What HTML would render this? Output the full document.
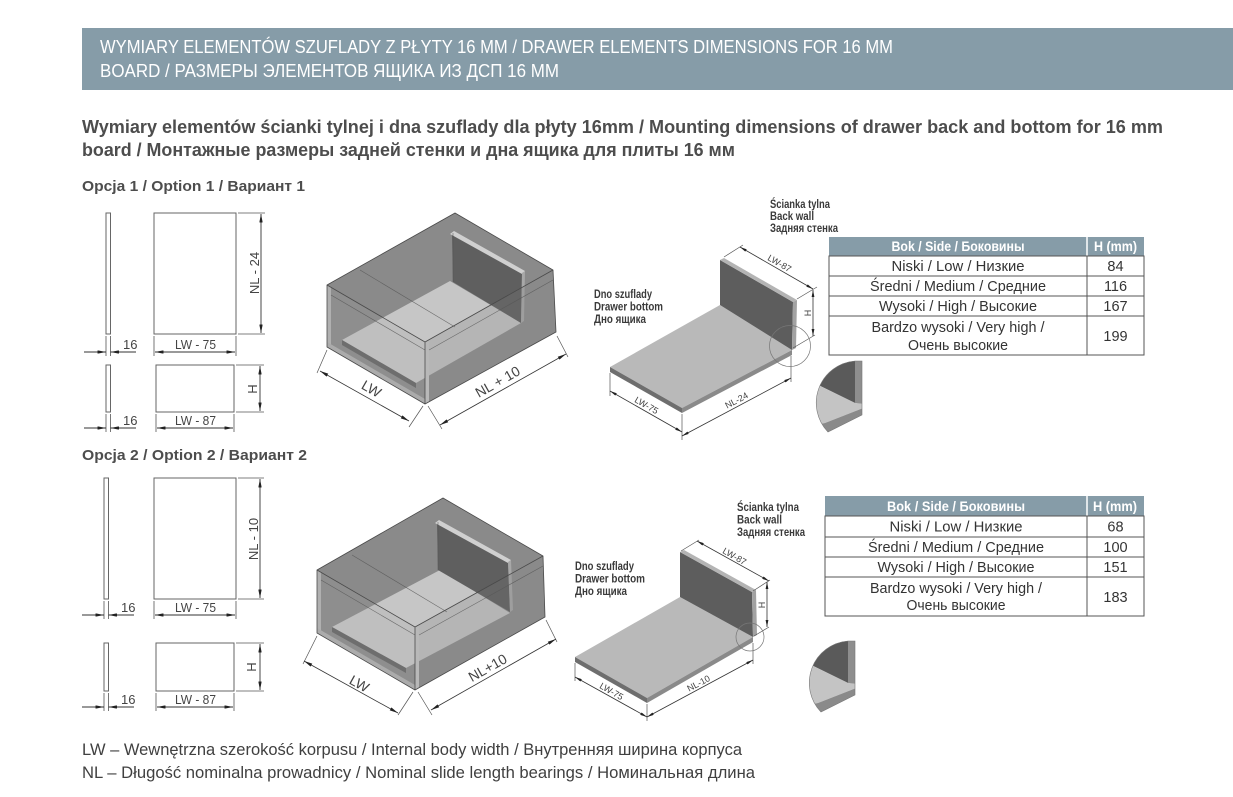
<!DOCTYPE html>
<html><head><meta charset="utf-8"><style>
html,body{margin:0;padding:0;background:#fff;}
svg{display:block;}
text{font-family:"Liberation Sans Narrow","Liberation Sans","DejaVu Sans",sans-serif;}
</style></head><body>
<svg width="1233" height="797" viewBox="0 0 1233 797" xmlns="http://www.w3.org/2000/svg">
<defs>
<marker id="ar" viewBox="0 0 10 4" refX="10" refY="2" markerWidth="9" markerHeight="3.4" markerUnits="userSpaceOnUse" orient="auto-start-reverse"><path d="M0,0L10,2L0,4z" fill="#222"/></marker>
<marker id="as" viewBox="0 0 10 4" refX="10" refY="2" markerWidth="7" markerHeight="2.8" markerUnits="userSpaceOnUse" orient="auto-start-reverse"><path d="M0,0L10,2L0,4z" fill="#222"/></marker>
<clipPath id="det"><path d="M862,361 L862,415 L828,432 A42,42 0 0 1 855,361 Z"/></clipPath>
</defs>

<!-- Header band -->
<rect x="82" y="28" width="1151" height="62" fill="#869ca8"/>
<text x="100" y="53" font-size="18" fill="#fff" textLength="793" lengthAdjust="spacingAndGlyphs">WYMIARY ELEMENTÓW SZUFLADY Z PŁYTY 16 MM / DRAWER ELEMENTS DIMENSIONS FOR 16 MM</text>
<text x="100" y="77" font-size="18" fill="#fff" textLength="459" lengthAdjust="spacingAndGlyphs">BOARD / РАЗМЕРЫ ЭЛЕМЕНТОВ ЯЩИКА ИЗ ДСП 16 ММ</text>

<!-- Subheading -->
<text x="82" y="133" font-size="18" font-weight="bold" fill="#4d4d4d" textLength="1081" lengthAdjust="spacingAndGlyphs">Wymiary elementów ścianki tylnej i dna szuflady dla płyty 16mm / Mounting dimensions of drawer back and bottom for 16 mm</text>
<text x="82" y="156" font-size="18" font-weight="bold" fill="#4d4d4d" textLength="653" lengthAdjust="spacingAndGlyphs">board / Монтажные размеры задней стенки и дна ящика для плиты 16 мм</text>

<text x="82" y="191" font-size="15" font-weight="bold" fill="#4d4d4d" textLength="223" lengthAdjust="spacingAndGlyphs">Opcja 1 / Option 1 / Вариант 1</text>
<text x="82" y="460" font-size="15" font-weight="bold" fill="#4d4d4d" textLength="225" lengthAdjust="spacingAndGlyphs">Opcja 2 / Option 2 / Вариант 2</text>

<!-- ===== Option 1 flat parts ===== -->
<g fill="none" stroke="#666" stroke-width="1">
<rect x="106" y="213" width="4.5" height="121"/>
<rect x="154" y="213" width="82" height="121"/>
<rect x="106" y="365" width="4.5" height="47"/>
<rect x="156" y="365" width="78" height="47"/>
</g>
<g fill="none" stroke="#555" stroke-width="0.8">
<path d="M238,213H265M238,334H265M154,336V356M236,336V356M106,336V356M110.5,336V356"/>
<path d="M236,365H264M236,412H264M156,414V432M234,414V432M106,414V432M110.5,414V432"/>
</g>
<g fill="none" stroke="#333" stroke-width="0.9">
<path d="M261,214V333" marker-start="url(#ar)" marker-end="url(#ar)"/>
<path d="M155,352H235" marker-start="url(#ar)" marker-end="url(#ar)"/>
<path d="M84,352H106" marker-end="url(#ar)"/>
<path d="M136,352H110.5" marker-end="url(#ar)"/>
<path d="M260,366V411" marker-start="url(#ar)" marker-end="url(#ar)"/>
<path d="M157,428H233" marker-start="url(#ar)" marker-end="url(#ar)"/>
<path d="M84,428H106" marker-end="url(#ar)"/>
<path d="M136,428H110.5" marker-end="url(#ar)"/>
</g>
<g font-size="13" fill="#444">
<text transform="translate(259,273) rotate(-90)" text-anchor="middle">NL - 24</text>
<text x="175" y="349" textLength="41" lengthAdjust="spacingAndGlyphs">LW - 75</text>
<text x="123" y="349">16</text>
<text transform="translate(257,389) rotate(-90)" text-anchor="middle">H</text>
<text x="175" y="425" textLength="41" lengthAdjust="spacingAndGlyphs">LW - 87</text>
<text x="123" y="425">16</text>
</g>

<!-- ===== Option 2 flat parts ===== -->
<g fill="none" stroke="#666" stroke-width="1">
<rect x="104" y="478" width="4.5" height="121"/>
<rect x="154" y="478" width="82" height="121"/>
<rect x="104" y="643" width="4.5" height="48"/>
<rect x="156" y="643" width="78" height="48"/>
</g>
<g fill="none" stroke="#555" stroke-width="0.8">
<path d="M238,478H264M238,599H264M154,601V619M236,601V619M104,601V619M108.5,601V619"/>
<path d="M236,643H264M236,691H264M156,693V711M234,693V711M104,693V711M108.5,693V711"/>
</g>
<g fill="none" stroke="#333" stroke-width="0.9">
<path d="M260,479V598" marker-start="url(#ar)" marker-end="url(#ar)"/>
<path d="M155,615H235" marker-start="url(#ar)" marker-end="url(#ar)"/>
<path d="M82,615H104" marker-end="url(#ar)"/>
<path d="M134,615H108.5" marker-end="url(#ar)"/>
<path d="M260,644V690" marker-start="url(#ar)" marker-end="url(#ar)"/>
<path d="M157,707H233" marker-start="url(#ar)" marker-end="url(#ar)"/>
<path d="M82,707H104" marker-end="url(#ar)"/>
<path d="M134,707H108.5" marker-end="url(#ar)"/>
</g>
<g font-size="13" fill="#444">
<text transform="translate(258,539) rotate(-90)" text-anchor="middle">NL - 10</text>
<text x="175" y="612" textLength="41" lengthAdjust="spacingAndGlyphs">LW - 75</text>
<text x="121" y="612">16</text>
<text transform="translate(256,667) rotate(-90)" text-anchor="middle">H</text>
<text x="175" y="704" textLength="41" lengthAdjust="spacingAndGlyphs">LW - 87</text>
<text x="121" y="704">16</text>
</g>

<!-- ===== 3D box option 1 ===== -->
<g>
<polygon points="327,285 455,213 553,270 556,332 425,404 327,347" fill="#8f8f8f"/>
<polygon points="327,285 455,213 553,270 425,342" fill="#8a8a8a"/>
<polygon points="342,340 450,281 521,323 416,383" fill="#c6c6c6"/>
<polygon points="342,340 416,383 416,388 342,345" fill="#6a6a6a"/>
<polygon points="452,233 522,273 521,323 453,282" fill="#5f5f5f"/>
<polygon points="450,234 454,231 525,271 522,274" fill="#d0d0d0"/>
<polygon points="522,273 525,271 524,321 521,323" fill="#a8a8a8"/>
<polygon points="425,342 553,270 556,332 425,404" fill="#7a7a7a" opacity="0.22"/>
<polygon points="327,285 425,342 425,404 327,347" fill="#8a8a8a" opacity="0.12"/>
<polygon points="327,285 331,287 331,349 327,347" fill="#b0b0b0"/>
<polygon points="425,342 429,340 429,402 425,404" fill="#b8b8b8"/>
<polygon points="327,342 425,399 425,404 327,347" fill="#ababab"/>
<g fill="none" stroke="#4a4a4a" stroke-width="0.8">
<polygon points="327,285 455,213 553,270 556,332 425,404 327,347"/>
<path d="M327,285L425,342L553,270M425,342V404"/>
</g>
<g fill="none" stroke="#555" stroke-width="0.6" opacity="0.8">
<path d="M331,295L425,350M360,270L455,327M429,350L553,280M453,282V233"/>
</g>
</g>
<g fill="none" stroke="#555" stroke-width="0.7">
<path d="M327,350L317,373M423,406L409,427M428,406L442,429M557,336L568,357"/>
</g>
<g fill="none" stroke="#333" stroke-width="0.8">
<path d="M320,371L409,421" marker-start="url(#ar)" marker-end="url(#ar)"/>
<path d="M440,425L566,354" marker-start="url(#ar)" marker-end="url(#ar)"/>
</g>
<g font-size="14" fill="#444">
<text transform="translate(369,393) rotate(30)" text-anchor="middle">LW</text>
<text transform="translate(500,386) rotate(-29.5)" text-anchor="middle">NL + 10</text>
</g>

<!-- ===== 3D box option 2 ===== -->
<g>
<polygon points="317,570 443,498 543,556 545,617 415,690 317,633" fill="#8f8f8f"/>
<polygon points="317,570 443,498 543,556 415,627" fill="#8a8a8a"/>
<polygon points="332,627 440,570 510,613 406,668" fill="#c6c6c6"/>
<polygon points="332,627 406,668 406,673 332,632" fill="#6a6a6a"/>
<polygon points="437,522 508,562 510,612 438,570" fill="#5f5f5f"/>
<polygon points="435,523 439,520 511,560 508,563" fill="#d0d0d0"/>
<polygon points="508,562 511,560 513,610 510,612" fill="#a8a8a8"/>
<polygon points="415,627 543,556 545,617 415,690" fill="#7a7a7a" opacity="0.22"/>
<polygon points="317,570 415,627 415,690 317,633" fill="#8a8a8a" opacity="0.12"/>
<polygon points="317,570 321,572 321,635 317,633" fill="#b0b0b0"/>
<polygon points="415,627 419,625 419,688 415,690" fill="#b8b8b8"/>
<polygon points="317,628 415,685 415,690 317,633" fill="#ababab"/>
<g fill="none" stroke="#4a4a4a" stroke-width="0.8">
<polygon points="317,570 443,498 543,556 545,617 415,690 317,633"/>
<path d="M317,570L415,627L543,556M415,627V690"/>
</g>
<g fill="none" stroke="#555" stroke-width="0.6" opacity="0.8">
<path d="M321,580L415,635M352,555L447,612M419,635L543,566M438,570V522"/>
</g>
</g>
<g fill="none" stroke="#555" stroke-width="0.7">
<path d="M317,636L303,664M413,692L398,715M418,692L432,715M546,620L557,642"/>
</g>
<g fill="none" stroke="#333" stroke-width="0.8">
<path d="M304,661L398,713" marker-start="url(#ar)" marker-end="url(#ar)"/>
<path d="M431,710L556,639" marker-start="url(#ar)" marker-end="url(#ar)"/>
</g>
<g font-size="14" fill="#444">
<text transform="translate(357,688) rotate(29)" text-anchor="middle">LW</text>
<text transform="translate(490,672) rotate(-29.5)" text-anchor="middle">NL+10</text>
</g>

<!-- ===== Back wall + bottom option 1 ===== -->
<g>
<polygon points="610,367 720,305 792,350 682,408" fill="#b9b9b9"/>
<polygon points="610,367 682,408 682,413 610,372" fill="#6e6e6e"/>
<polygon points="682,408 792,350 792,355 682,413" fill="#8a8a8a"/>
<polygon points="720,260 793,302 792,350 720,305" fill="#5d5d5d"/>
<polygon points="720,260 724,258 797,300 793,302" fill="#b4b4b4"/>
<polygon points="793,302 797,300 796,348 792,350" fill="#a2a2a2"/>
</g>
<g fill="none" stroke="#555" stroke-width="0.7">
<path d="M724,257L743,245M797,299L817,287M793,348L815,335M682,414V440M791,356V382M610,373V396"/>
<circle cx="790" cy="346" r="20.5" stroke="#777"/>
</g>
<g fill="none" stroke="#333" stroke-width="0.8">
<path d="M740,247L813,289" marker-start="url(#as)" marker-end="url(#as)"/>
<path d="M813,290V336" marker-start="url(#as)" marker-end="url(#as)"/>
<path d="M682,436L791,378" marker-start="url(#as)" marker-end="url(#as)"/>
<path d="M610,391L682,432" marker-start="url(#as)" marker-end="url(#as)"/>
</g>
<g font-size="9" fill="#444">
<text transform="translate(778,266) rotate(30)" text-anchor="middle">LW-87</text>
<text transform="translate(811,313) rotate(-90)" text-anchor="middle">H</text>
<text transform="translate(738,403) rotate(-28)" text-anchor="middle">NL-24</text>
<text transform="translate(645,408) rotate(30)" text-anchor="middle">LW-75</text>
</g>
<g font-size="11.5" font-weight="bold" fill="#3a3a3a">
<text x="770" y="208" textLength="60" lengthAdjust="spacingAndGlyphs">Ścianka tylna</text>
<text x="770" y="220" textLength="44" lengthAdjust="spacingAndGlyphs">Back wall</text>
<text x="770" y="232" textLength="68" lengthAdjust="spacingAndGlyphs">Задняя стенка</text>
<text x="594" y="298" textLength="58" lengthAdjust="spacingAndGlyphs">Dno szuflady</text>
<text x="594" y="310.5" textLength="69" lengthAdjust="spacingAndGlyphs">Drawer bottom</text>
<text x="594" y="323" textLength="52" lengthAdjust="spacingAndGlyphs">Дно ящика</text>
</g>

<!-- detail 1 -->
<g id="d1">
<g clip-path="url(#det)">
<polygon points="810,350 855,350 855,403 810,381" fill="#5a5a5a"/>
<polygon points="855,350 866,350 866,405 855,403" fill="#8e8e8e"/>
<polygon points="810,381 855,403 866,404 866,407 825,423 810,426" fill="#c4c4c4"/>
<polygon points="810,426 825,423 866,407 866,440 810,440" fill="#8a8a8a"/>
</g>
<path d="M862,361 L862,415 L828,432 A42,42 0 0 1 855,361 Z" fill="none" stroke="#777" stroke-width="0.6"/>
</g>

<!-- ===== Back wall + bottom option 2 ===== -->
<g>
<polygon points="575,657 680,597 753,637 647,698" fill="#b9b9b9"/>
<polygon points="575,657 647,698 647,703 575,662" fill="#6e6e6e"/>
<polygon points="647,698 753,637 753,642 647,703" fill="#8a8a8a"/>
<polygon points="680,552 752,592 753,637 680,597" fill="#5d5d5d"/>
<polygon points="680,552 684,550 756,590 752,592" fill="#b4b4b4"/>
<polygon points="752,592 756,590 757,635 753,637" fill="#a2a2a2"/>
</g>
<g fill="none" stroke="#555" stroke-width="0.7">
<path d="M681,551L699,540M753,591L770,580M754,636L769,627M647,704V721M753,643V664M575,663V681"/>
<circle cx="750" cy="637" r="14" stroke="#777"/>
</g>
<g fill="none" stroke="#333" stroke-width="0.8">
<path d="M697,541L769,581" marker-start="url(#as)" marker-end="url(#as)"/>
<path d="M767,582V627" marker-start="url(#as)" marker-end="url(#as)"/>
<path d="M647,717L753,660" marker-start="url(#as)" marker-end="url(#as)"/>
<path d="M575,677L647,717" marker-start="url(#as)" marker-end="url(#as)"/>
</g>
<g font-size="9" fill="#444">
<text transform="translate(733,559) rotate(30)" text-anchor="middle">LW-87</text>
<text transform="translate(765,605) rotate(-90)" text-anchor="middle">H</text>
<text transform="translate(700,686) rotate(-28)" text-anchor="middle">NL-10</text>
<text transform="translate(610,694) rotate(30)" text-anchor="middle">LW-75</text>
</g>
<g font-size="11.5" font-weight="bold" fill="#3a3a3a">
<text x="737" y="511" textLength="62" lengthAdjust="spacingAndGlyphs">Ścianka tylna</text>
<text x="737" y="523.5" textLength="45" lengthAdjust="spacingAndGlyphs">Back wall</text>
<text x="737" y="536" textLength="68" lengthAdjust="spacingAndGlyphs">Задняя стенка</text>
<text x="575" y="570" textLength="59" lengthAdjust="spacingAndGlyphs">Dno szuflady</text>
<text x="575" y="582.5" textLength="70" lengthAdjust="spacingAndGlyphs">Drawer bottom</text>
<text x="575" y="595" textLength="52" lengthAdjust="spacingAndGlyphs">Дно ящика</text>
</g>

<!-- detail 2 -->
<g transform="translate(-7,280)">
<g clip-path="url(#det)">
<polygon points="810,350 855,350 855,403 810,381" fill="#5a5a5a"/>
<polygon points="855,350 866,350 866,405 855,403" fill="#8e8e8e"/>
<polygon points="810,381 855,403 866,404 866,407 825,423 810,426" fill="#c4c4c4"/>
<polygon points="810,426 825,423 866,407 866,440 810,440" fill="#8a8a8a"/>
</g>
<path d="M862,361 L862,415 L828,432 A42,42 0 0 1 855,361 Z" fill="none" stroke="#777" stroke-width="0.6"/>
</g>

<!-- ===== Table 1 ===== -->
<rect x="829" y="237" width="315" height="19" fill="#869ca8"/>
<path d="M1087,237V256" stroke="#fff" stroke-width="1.5"/>
<g fill="none" stroke="#555" stroke-width="1">
<rect x="829" y="256" width="315" height="99"/>
<path d="M829,276H1144M829,296H1144M829,316H1144M1087,256V355"/>
</g>
<g font-size="13.5" font-weight="bold" fill="#fff">
<text x="891.5" y="251" textLength="133" lengthAdjust="spacingAndGlyphs">Bok / Side / Боковины</text>
<text x="1094" y="251" textLength="43" lengthAdjust="spacingAndGlyphs">H (mm)</text>
</g>
<g font-size="14.5" fill="#333">
<text x="891.5" y="271" textLength="133" lengthAdjust="spacingAndGlyphs">Niski / Low / Низкие</text>
<text x="870" y="291" textLength="176" lengthAdjust="spacingAndGlyphs">Średni / Medium / Средние</text>
<text x="879" y="311" textLength="158" lengthAdjust="spacingAndGlyphs">Wysoki / High / Высокие</text>
<text x="871.5" y="332" textLength="173" lengthAdjust="spacingAndGlyphs">Bardzo wysoki / Very high /</text>
<text x="908" y="350" textLength="100" lengthAdjust="spacingAndGlyphs">Очень высокие</text>
<text x="1115.5" y="271" text-anchor="middle">84</text>
<text x="1115.5" y="291" text-anchor="middle">116</text>
<text x="1115.5" y="311" text-anchor="middle">167</text>
<text x="1115.5" y="341" text-anchor="middle">199</text>
</g>

<!-- ===== Table 2 ===== -->
<rect x="825" y="496" width="319" height="20" fill="#869ca8"/>
<path d="M1087,496V516" stroke="#fff" stroke-width="1.5"/>
<g fill="none" stroke="#555" stroke-width="1">
<rect x="825" y="516" width="319" height="100"/>
<path d="M825,537H1144M825,557H1144M825,577H1144M1087,516V616"/>
</g>
<g font-size="13.5" font-weight="bold" fill="#fff">
<text x="887" y="511" textLength="138" lengthAdjust="spacingAndGlyphs">Bok / Side / Боковины</text>
<text x="1093" y="511" textLength="44" lengthAdjust="spacingAndGlyphs">H (mm)</text>
</g>
<g font-size="14.5" fill="#333">
<text x="889.5" y="531.5" textLength="133" lengthAdjust="spacingAndGlyphs">Niski / Low / Низкие</text>
<text x="868" y="552" textLength="176" lengthAdjust="spacingAndGlyphs">Średni / Medium / Средние</text>
<text x="877.5" y="572" textLength="157" lengthAdjust="spacingAndGlyphs">Wysoki / High / Высокие</text>
<text x="870" y="593" textLength="172" lengthAdjust="spacingAndGlyphs">Bardzo wysoki / Very high /</text>
<text x="906.5" y="610" textLength="99" lengthAdjust="spacingAndGlyphs">Очень высокие</text>
<text x="1115.5" y="531.5" text-anchor="middle">68</text>
<text x="1115.5" y="552" text-anchor="middle">100</text>
<text x="1115.5" y="572" text-anchor="middle">151</text>
<text x="1115.5" y="602" text-anchor="middle">183</text>
</g>

<!-- ===== Legend ===== -->
<g font-size="17" fill="#404040">
<text x="82" y="755" textLength="660" lengthAdjust="spacingAndGlyphs">LW – Wewnętrzna szerokość korpusu / Internal body width / Внутренняя ширина корпуса</text>
<text x="82" y="778" textLength="673" lengthAdjust="spacingAndGlyphs">NL – Długość nominalna prowadnicy / Nominal slide length bearings / Номинальная длина</text>
</g>
</svg>
</body></html>
